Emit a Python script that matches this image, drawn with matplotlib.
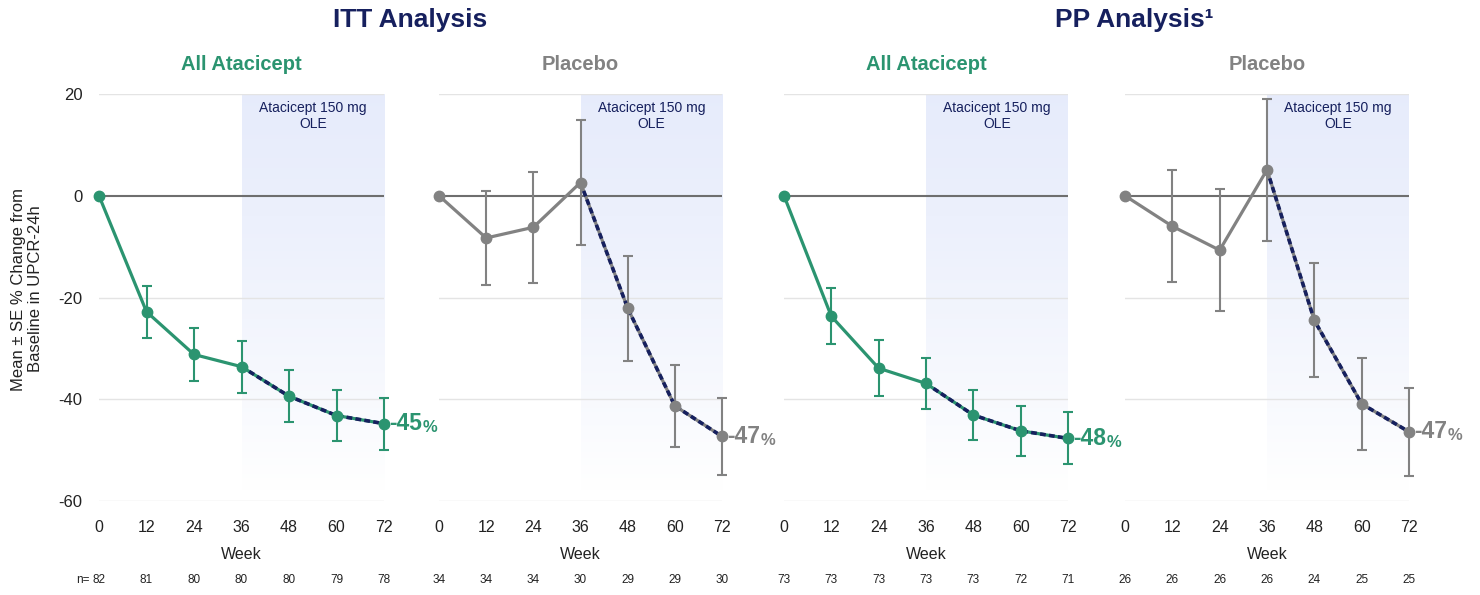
import matplotlib
matplotlib.use("Agg")
import matplotlib.pyplot as plt
import matplotlib.transforms as mtransforms
import numpy as np

plt.rcParams['font.family'] = ['Liberation Sans', 'DejaVu Sans']

# ---------------- data ----------------
weeks = [0, 12, 24, 36, 48, 60, 72]

itt_atac_mean = [0, -22.8, -31.2, -33.6, -39.4, -43.2, -44.8]
itt_atac_se = [0, 5.1, 5.3, 5.1, 5.1, 5.0, 5.1]
itt_plac_mean = [0, -8.3, -6.2, 2.6, -22.1, -41.3, -47.3]
itt_plac_se = [0, 9.2, 10.9, 12.2, 10.3, 8.0, 7.6]
pp_atac_mean = [0, -23.7, -33.9, -36.9, -43.1, -46.2, -47.7]
pp_atac_se = [0, 5.5, 5.5, 5.1, 5.0, 4.9, 5.1]
pp_plac_mean = [0, -6.0, -10.7, 5.1, -24.5, -40.9, -46.4]
pp_plac_se = [0, 11.0, 12.0, 13.9, 11.2, 9.0, 8.6]

n_itt_atac = [82, 81, 80, 80, 80, 79, 78]
n_itt_plac = [34, 34, 34, 30, 29, 29, 30]
n_pp_atac = [73, 73, 73, 73, 73, 72, 71]
n_pp_plac = [26, 26, 26, 26, 24, 25, 25]

end_labels = ["-45", "-47", "-48", "-47"]
panel_titles = ["All Atacicept", "Placebo", "All Atacicept", "Placebo"]
group_titles = ["ITT Analysis", "PP Analysis\u00b9"]
ole_label = "Atacicept 150 mg\nOLE"
ole_start, ole_end = 36, 72
y_ticks = [20, 0, -20, -40, -60]

GREEN = "#2b9470"
GRAY = "#828282"
NAVY = "#16205e"
ZERO = "#6e6e6e"
GRID = "#e4e4e4"

series = [
    (itt_atac_mean, itt_atac_se, n_itt_atac, GREEN),
    (itt_plac_mean, itt_plac_se, n_itt_plac, GRAY),
    (pp_atac_mean, pp_atac_se, n_pp_atac, GREEN),
    (pp_plac_mean, pp_plac_se, n_pp_plac, GRAY),
]

W, H = 1480, 595
fig = plt.figure(figsize=(W / 100, H / 100), dpi=100)

panel_px = [(99, 384), (439, 722), (784, 1068), (1125, 1409)]
top_px, bot_px = 94, 501

grad = np.linspace(0, 1, 256).reshape(-1, 1) ** 1.3
top_col = np.array([0.905, 0.925, 0.985])
img = top_col[None, None, :] * (1 - grad[:, :, None]) + np.ones(3)[None, None, :] * grad[:, :, None]

axes = []
for i, ((x0, x1), (mean, se, ns, col)) in enumerate(zip(panel_px, series)):
    ax = fig.add_axes([x0 / W, 1 - bot_px / H, (x1 - x0) / W, (bot_px - top_px) / H])
    axes.append(ax)
    ax.set_xlim(0, 72)
    ax.set_ylim(-60, 20)
    for s in ax.spines.values():
        s.set_visible(False)
    # OLE shaded gradient
    ax.imshow(img, extent=[ole_start, ole_end, -58, 20], aspect='auto', zorder=0,
              interpolation='bilinear')
    ax.text((ole_start + ole_end) / 2, 18.6, ole_label, ha='center', va='top',
            fontsize=10, color=NAVY, linespacing=1.15, zorder=2)
    # grid
    for yv in y_ticks:
        if yv == 0:
            ax.axhline(0, color=ZERO, lw=1.5, zorder=1)
        else:
            ax.axhline(yv, color=GRID, lw=1.0, zorder=0.5)
    ax.set_xticks(weeks)
    ax.set_xticklabels([str(w) for w in weeks], fontsize=11.5, color="#222222")
    ax.tick_params(axis='x', length=0, pad=14)
    ax.set_yticks(y_ticks)
    if i == 0:
        ax.set_yticklabels([str(v) for v in y_ticks], fontsize=12, color="#222222")
        ax.tick_params(axis='y', length=0, pad=12)
    else:
        ax.tick_params(axis='y', length=0, labelleft=False)
    ax.set_xlabel("Week", fontsize=11.5, color="#222222", labelpad=8)

    x = np.array(weeks)
    m = np.array(mean)
    e = np.array(se)
    ax.plot(x, m, color=col, lw=2.3, zorder=3, solid_capstyle='round')
    ole = x >= ole_start
    ax.plot(x[ole], m[ole], color=NAVY, lw=2.6, zorder=4, dashes=(1.6, 0.9))
    ax.errorbar(x[1:], m[1:], yerr=e[1:], fmt='none', ecolor=col, elinewidth=1.5,
                capsize=3.5, capthick=1.5, zorder=3, clip_on=False)
    ax.plot(x, m, 'o', color=col, ms=7.5, zorder=5, clip_on=False)

    # end label
    t = ax.annotate(end_labels[i], xy=(x[-1], m[-1]), xytext=(4, 0), textcoords='offset points',
                    ha='left', va='center', fontsize=16.5, fontweight='bold', color=col,
                    annotation_clip=False, zorder=6)
    ax.annotate('%', xy=(1, 0), xycoords=t, ha='left', va='bottom', fontsize=12,
                fontweight='bold', color=col, annotation_clip=False, zorder=6)

    # n row
    trans = mtransforms.blended_transform_factory(ax.transData, ax.transAxes)
    ny = -(580 - bot_px) / (bot_px - top_px)
    for w, nv in zip(weeks, ns):
        ax.text(w, ny, str(nv), transform=trans, ha='center', va='center', fontsize=8.5,
                color="#222222")
    if i == 0:
        ax.annotate("n=", xy=(0, ny), xycoords=trans, xytext=(-7, 0), textcoords='offset points',
                    ha='right', va='center', fontsize=8.5, color="#222222")

    # panel title
    fig.text(((x0 + x1) / 2) / W, 1 - 64 / H, panel_titles[i], ha='center', va='center',
             fontsize=14.5, fontweight='bold', color=col)

fig.text(410 / W, 1 - 20 / H, group_titles[0], ha='center', va='center', fontsize=19,
         fontweight='bold', color=NAVY)
fig.text(1134 / W, 1 - 20 / H, group_titles[1], ha='center', va='center', fontsize=19,
         fontweight='bold', color=NAVY)

fig.text(27 / W, 1 - 289 / H, "Mean \u00b1 SE % Change from\nBaseline in UPCR-24h",
         rotation=90, ha='center', va='center', fontsize=12, color="#222222", linespacing=1.2)

fig.savefig("out.png", dpi=100, facecolor='white')
